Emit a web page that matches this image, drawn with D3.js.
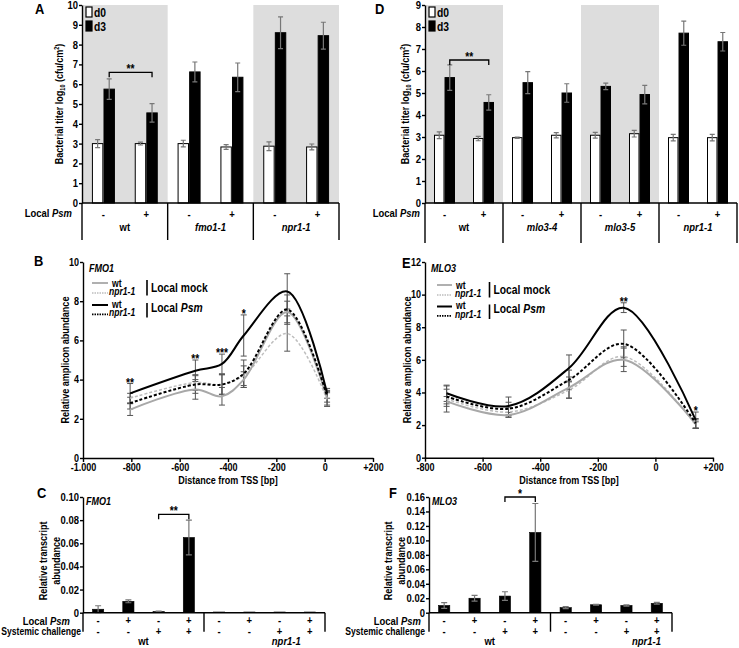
<!DOCTYPE html>
<html><head><meta charset="utf-8">
<script src="https://cdn.jsdelivr.net/npm/d3@7"></script>
<style>body{margin:0;background:#fff;}</style>
</head><body>
<svg id="fig" width="739" height="648" xmlns="http://www.w3.org/2000/svg"></svg>
<script>
// ================= DATA =================
const localPsm = ["-", "+"];
const days = ["d0", "d3"];
// Panel A (order: wt-, wt+, fmo1-1 -, fmo1-1 +, npr1-1 -, npr1-1 +)
const groupsA = ["wt", "fmo1-1", "npr1-1"];
const d0A = [3.0, 3.0, 3.0, 2.83, 2.87, 2.83];
const d0AErr = [0.2, 0.07, 0.17, 0.12, 0.22, 0.15];
const d3A = [5.75, 4.55, 6.62, 6.35, 8.6, 8.45];
const d3AErr = [0.52, 0.47, 0.5, 0.72, 0.8, 0.68];
const ticksA = [0, 1, 2, 3, 4, 5, 6, 7, 8, 9, 10];
// Panel D
const groupsD = ["wt", "mlo3-4", "mlo3-5", "npr1-1"];
const d0D = [3.08, 2.93, 2.97, 3.08, 3.08, 3.15, 2.97, 2.97];
const d0DErr = [0.15, 0.1, 0.03, 0.12, 0.13, 0.15, 0.15, 0.15];
const d3D = [5.7, 4.57, 5.47, 5.0, 5.3, 4.93, 7.72, 7.33];
const d3DErr = [0.58, 0.35, 0.5, 0.42, 0.15, 0.42, 0.55, 0.42];
const ticksD = [0, 1, 2, 3, 4, 5, 6, 7, 8, 9];
// Panel B (FMO1 promoter)
const bpB = [-805, -535, -425, -335, -155, 10];
const wtMockB = [2.47, 3.5, 3.15, 4.0, 7.45, 3.05];
const wtMockBErr = [0.3, 0.5, 0.45, 0.4, 0.55, 0.35];
const nprMockB = [3.05, 3.85, 3.75, 4.2, 6.35, 2.98];
const nprMockBErr = [0.25, 0.4, 0.5, 0.5, 0.9, 0.35];
const wtPsmB = [3.3, 4.45, 4.8, 6.25, 8.5, 3.3];
const wtPsmBErr = [0.5, 0.55, 0.5, 1.05, 0.9, 0.25];
const nprPsmB = [2.8, 3.75, 3.75, 4.3, 7.57, 3.15];
const nprPsmBErr = [0.3, 0.45, 0.5, 0.7, 0.75, 0.3];
const sigB = ["**", "**", "***", "*", "", ""];
const xTicksB = [-1000, -800, -600, -400, -200, 0, 200];
const yTicksB = [0, 2, 4, 6, 8, 10];
// Panel E (MLO3 promoter)
const bpE = [-725, -510, -300, -110, 140];
const wtMockE = [3.45, 2.62, 4.3, 6.0, 2.07];
const wtMockEErr = [0.3, 0.15, 0.65, 0.72, 0.25];
const nprMockE = [3.6, 2.8, 4.15, 6.2, 2.0];
const nprMockEErr = [0.8, 0.3, 0.5, 0.6, 0.2];
const wtPsmE = [3.95, 3.17, 5.5, 9.2, 2.3];
const wtPsmEErr = [0.5, 0.55, 0.8, 0.3, 0.5];
const nprPsmE = [3.75, 3.0, 4.77, 6.98, 2.1];
const nprPsmEErr = [0.45, 0.4, 0.6, 0.85, 0.3];
const sigE = ["", "", "", "**", "*"];
const xTicksE = [-800, -600, -400, -200, 0, 200];
const yTicksE = [0, 2, 4, 6, 8, 10, 12];
// Panels C / F (transcripts)
const cLocal = ["-", "+", "-", "+", "-", "+", "-", "+"];
const cSystemic = ["-", "-", "+", "+", "-", "-", "+", "+"];
const fmo1C = [0.003, 0.0098, 0.001, 0.065, 0.0006, 0.0006, 0.0006, 0.0006];
const fmo1CErr = [0.003, 0.0012, 0.0004, 0.015, 0, 0, 0, 0];
const yTicksC = [0, 0.02, 0.04, 0.06, 0.08, 0.10];
const mlo3F = [0.010, 0.020, 0.023, 0.111, 0.007, 0.011, 0.010, 0.013];
const mlo3FErr = [0.004, 0.004, 0.006, 0.040, 0.0015, 0.0006, 0.001, 0.0012];
const yTicksF = [0, 0.02, 0.04, 0.06, 0.08, 0.10, 0.12, 0.14, 0.16];

// ================= FONT =================
const narrowOK = (() => {
  const c = document.createElement("canvas").getContext("2d");
  c.font = "bold 40px monospace"; const a = c.measureText("Local mock abcdefghij").width;
  c.font = "bold 40px 'Liberation Sans Narrow', monospace"; const b = c.measureText("Local mock abcdefghij").width;
  return Math.abs(a - b) > 1;
})();
const FAMILY = narrowOK ? "'Liberation Sans Narrow', sans-serif" : "'Liberation Sans', Arial, sans-serif";
const SX = narrowOK ? 1.05 : 0.86;

const svg = d3.select("#fig");

function T(parent, x, y, parts, o = {}) {
  const t = parent.append("text")
    .attr("transform", `translate(${x},${y})${o.rot ? ` rotate(${o.rot})` : ""} scale(${SX},1)`)
    .attr("text-anchor", o.anchor || "start")
    .attr("font-size", o.size || 10.5).attr("font-weight", "bold")
    .style("font-family", FAMILY).attr("fill", "#000");
  const list = typeof parts === "string" ? [[parts, o.italic]] : parts;
  list.forEach(p => {
    const s = t.append("tspan").text(p[0]);
    if (p[1]) s.attr("font-style", "italic");
    if (p[2]) { if (p[2].size) s.attr("font-size", p[2].size); if (p[2].dy) s.attr("dy", p[2].dy); }
  });
  return t;
}
function styleAxis(g, size) {
  g.selectAll("path,line").attr("stroke", "#000").attr("stroke-width", 1.4);
  g.selectAll("text").attr("font-size", size || 10.5).attr("font-weight", "bold").attr("fill", "#000")
    .style("font-family", FAMILY)
    .each(function () {
      const t = d3.select(this);
      const x = +t.attr("x") || 0, y = +t.attr("y") || 0;
      t.attr("transform", `translate(${x},${y}) scale(${SX},1)`).attr("x", 0).attr("y", 0);
    });
}
function line(g, x1, y1, x2, y2, stroke, w, dash) {
  const l = g.append("line").attr("x1", x1).attr("y1", y1).attr("x2", x2).attr("y2", y2)
    .attr("stroke", stroke || "#000").attr("stroke-width", w || 1.4);
  if (dash) l.attr("stroke-dasharray", dash);
  return l;
}
function errBar(g, x, yLo, yHi, cap, color, w) {
  const p = `M${x},${yLo}V${yHi}M${x - cap},${yLo}H${x + cap}M${x - cap},${yHi}H${x + cap}`;
  g.append("path").attr("d", p).attr("stroke", color).attr("stroke-width", w).attr("fill", "none");
}

// ================= A / D : bacterial titers =================
function titerPanel(o) {
  const g = svg.append("g");
  const y = d3.scaleLinear([0, o.ymax], [o.yb, o.yt]);
  const x0 = d3.scaleBand(o.groups, [o.xl, o.xr]);
  const xs = d3.scaleBand(localPsm, [0, x0.bandwidth()]);
  const xd = d3.scaleBand(days, [-o.barW, o.barW]).paddingInner(0.1);
  g.selectAll("rect.shade").data(o.shaded).join("rect")
    .attr("x", d => x0(o.groups[d])).attr("width", x0.bandwidth())
    .attr("y", y(o.ymax)).attr("height", y(0) - y(o.ymax)).attr("fill", "#dddddd");
  const rows = [];
  o.groups.forEach((gr, gi) => localPsm.forEach((l, li) => {
    const i = gi * 2 + li, cx = x0(gr) + xs(l) + xs.bandwidth() / 2;
    rows.push({ day: "d0", cx, v: o.d0[i], e: o.d0e[i] });
    rows.push({ day: "d3", cx, v: o.d3[i], e: o.d3e[i] });
  }));
  g.selectAll("rect.bar").data(rows).join("rect")
    .attr("x", d => d.cx + xd(d.day)).attr("width", xd.bandwidth())
    .attr("y", d => y(d.v)).attr("height", d => y(0) - y(d.v))
    .attr("fill", d => d.day === "d0" ? "#fff" : "#000").attr("stroke", "#000").attr("stroke-width", 1);
  rows.forEach(d => errBar(g, d.cx + xd(d.day) + xd.bandwidth() / 2, y(d.v - d.e), y(d.v + d.e), 2.5, "#777", 1.2));
  const ax = g.append("g").attr("transform", `translate(${o.xl},0)`)
    .call(d3.axisLeft(y).tickValues(o.ticks).tickSize(3).tickPadding(1).tickSizeOuter(0));
  styleAxis(ax, 11);
  line(g, o.xl, y(0), o.xr, y(0));
  const seps = o.groups.map(gr => x0(gr)).concat([o.xr]);
  seps.forEach(sx => line(g, sx, y(0), sx, y(0) + o.tableH));
  T(g, o.localX, y(0) + 14, [["Local "], ["Psm", true]], { anchor: "end", size: 11 });
  o.groups.forEach(gr => {
    localPsm.forEach(l => T(g, x0(gr) + xs(l) + xs.bandwidth() / 2, y(0) + 14.5, l, { anchor: "middle", size: 11 }));
    T(g, x0(gr) + x0.bandwidth() / 2, y(0) + 28, gr, { anchor: "middle", size: 11, italic: gr !== "wt" });
  });
  g.append("rect").attr("x", o.xl + 4).attr("y", 7).attr("width", 6).attr("height", 10).attr("fill", "#fff").attr("stroke", "#000").attr("stroke-width", 1.2);
  g.append("rect").attr("x", o.xl + 4).attr("y", 21).attr("width", 6).attr("height", 10).attr("fill", "#000").attr("stroke", "#000").attr("stroke-width", 1.2);
  T(g, o.xl + 12, 16.5, "d0", { size: 12 });
  T(g, o.xl + 12, 30.5, "d3", { size: 12 });
  const bx1 = x0("wt") + xs("-") + xs.bandwidth() / 2 + xd("d3") + xd.bandwidth() / 2;
  const bx2 = x0("wt") + xs("+") + xs.bandwidth() / 2 + xd("d3") + xd.bandwidth() / 2;
  const by = y(o.bracket);
  g.append("path").attr("d", `M${bx1},${by + 5}V${by}H${bx2}V${by + 5}`).attr("stroke", "#000").attr("stroke-width", 1.3).attr("fill", "none");
  T(g, (bx1 + bx2) / 2, by + 1, "**", { anchor: "middle", size: 12 });
  T(g, o.titleX, (o.yb + o.yt) / 2, [["Bacterial titer log"], ["10", false, { size: 6.5, dy: 2 }], [" (cfu/cm", false, { dy: -2 }], ["2", false, { size: 6.5, dy: -4 }], [")", false, { dy: 4 }]], { anchor: "middle", rot: -90, size: 10.5 });
  T(g, o.letterX, 14, o.letter, { size: 15 });
}
titerPanel({ groups: groupsA, d0: d0A, d0e: d0AErr, d3: d3A, d3e: d3AErr, ticks: ticksA, ymax: 10,
  xl: 82, xr: 339, yb: 203, yt: 5, barW: 11, shaded: [0, 2], tableH: 37, localX: 72, bracket: 6.6,
  titleX: 63, letter: "A", letterX: 35 });
titerPanel({ groups: groupsD, d0: d0D, d0e: d0DErr, d3: d3D, d3e: d3DErr, ticks: ticksD, ymax: 9,
  xl: 425, xr: 737, yb: 203, yt: 5, barW: 10, shaded: [0, 2], tableH: 40, localX: 420, bracket: 6.5,
  titleX: 409, letter: "D", letterX: 375 });

// ================= B / E : ChIP profiles =================
function profilePanel(o) {
  const g = svg.append("g");
  const x = d3.scaleLinear(o.xdom, [o.xl, o.xr]);
  const y = d3.scaleLinear([0, o.ymax], [o.yb, o.yt]);
  const series = [
    { v: o.nprMock, e: o.nprMockE, stroke: "#bdbdbd", w: 1.5, dash: "3,2" },
    { v: o.wtMock, e: o.wtMockE, stroke: "#a8a8a8", w: 2, dash: null },
    { v: o.nprPsm, e: o.nprPsmE, stroke: "#000", w: 2, dash: "3,2" },
    { v: o.wtPsm, e: o.wtPsmE, stroke: "#000", w: 2, dash: null }
  ];
  series.forEach(s => s.v.forEach((v, i) => errBar(g, x(o.bp[i]), y(v - s.e[i]), y(v + s.e[i]), 3, "#555", 1)));
  const gen = d3.line().x((d, i) => x(o.bp[i])).y(d => y(d)).curve(d3.curveCatmullRom.alpha(0.5));
  series.forEach(s => {
    const p = g.append("path").attr("d", gen(s.v)).attr("fill", "none").attr("stroke", s.stroke).attr("stroke-width", s.w);
    if (s.dash) p.attr("stroke-dasharray", s.dash);
  });
  o.sig.forEach((s, i) => {
    if (!s) return;
    const top = d3.max(series, se => se.v[i] + se.e[i]);
    T(g, x(o.bp[i]), y(top) + 3, s, { anchor: "middle", size: 12 });
  });
  const ay = g.append("g").attr("transform", `translate(${o.xl},0)`)
    .call(d3.axisLeft(y).tickValues(o.yTicks).tickSize(3).tickPadding(1).tickSizeOuter(0));
  styleAxis(ay, 10.5);
  const axx = g.append("g").attr("transform", `translate(0,${o.yb})`)
    .call(d3.axisBottom(x).tickValues(o.xTicks).tickSize(4).tickPadding(2).tickSizeOuter(0)
      .tickFormat(d => d === -1000 ? "-1.000" : d > 0 ? "+" + d : String(d)));
  styleAxis(axx, 10.5);
  T(g, (o.xl + o.xr) / 2, o.yb + 26, "Distance from TSS [bp]", { anchor: "middle", size: 10.5 });
  T(g, o.titleX, (o.yb + o.yt) / 2, "Relative amplicon abundance", { anchor: "middle", rot: -90, size: 10.5 });
  T(g, o.xl + 6, o.yt + 10, o.gene, { italic: true, size: 10.5 });
  // legend
  const L = o.leg;
  line(g, L.lx1, L.r1, L.lx2, L.r1, "#a8a8a8", 1.8);
  line(g, L.lx1, L.r1 + 10, L.lx2, L.r1 + 10, "#bdbdbd", 1.4, "1.5,1");
  line(g, L.lx1, L.r2, L.lx2, L.r2, "#000", 2);
  line(g, L.lx1, L.r2 + 9.3, L.lx2, L.r2 + 9.3, "#000", 1.8, "1.5,1");
  T(g, L.wtX, L.r1 + 4.3, "wt", { size: 10 });
  T(g, L.nX, L.r1 + 11.5, "npr1-1", { italic: true, size: 10 });
  T(g, L.wtX, L.r2 + 2.8, "wt", { size: 10 });
  T(g, L.nX, L.r2 + 11, "npr1-1", { italic: true, size: 10 });
  line(g, L.bx, L.r1 - 3, L.bx, L.r1 + 12.5, "#000", 1.6);
  line(g, L.bx, L.r2 - 2, L.bx, L.r2 + 12.5, "#000", 1.6);
  T(g, L.bx + 4, L.r1 + 8.5, "Local mock", { size: 12 });
  T(g, L.bx + 4, L.r2 + 6.5, [["Local "], ["Psm", true]], { size: 12 });
  T(g, o.letterX, o.letterY, o.letter, { size: 15 });
}
profilePanel({ bp: bpB, wtMock: wtMockB, wtMockE: wtMockBErr, nprMock: nprMockB, nprMockE: nprMockBErr,
  wtPsm: wtPsmB, wtPsmE: wtPsmBErr, nprPsm: nprPsmB, nprPsmE: nprPsmBErr, sig: sigB,
  xdom: [-1000, 200], xl: 83, xr: 373, ymax: 10, yb: 458, yt: 262, xTicks: xTicksB, yTicks: yTicksB,
  titleX: 69, gene: "FMO1", letter: "B", letterX: 34, letterY: 266,
  leg: { lx1: 92, lx2: 108, r1: 283, r2: 305, wtX: 112, nX: 109, bx: 147 } });
profilePanel({ bp: bpE, wtMock: wtMockE, wtMockE: wtMockEErr, nprMock: nprMockE, nprMockE: nprMockEErr,
  wtPsm: wtPsmE, wtPsmE: wtPsmEErr, nprPsm: nprPsmE, nprPsmE: nprPsmEErr, sig: sigE,
  xdom: [-800, 200], xl: 425, xr: 713, ymax: 12, yb: 457.7, yt: 262, xTicks: xTicksE, yTicks: yTicksE,
  titleX: 411, gene: "MLO3", letter: "E", letterX: 402, letterY: 268,
  leg: { lx1: 437, lx2: 452, r1: 285, r2: 306.5, wtX: 456, nX: 455, bx: 489.5 } });

// ================= C / F : transcripts =================
function transcriptPanel(o) {
  const g = svg.append("g");
  const x = d3.scaleBand(d3.range(cLocal.length), [o.xl, o.xr]).paddingInner(0.63).paddingOuter(0.315);
  const y = d3.scaleLinear([0, o.ymax], [o.yb, o.yt]);
  g.selectAll("rect.bar").data(o.vals).join("rect")
    .attr("x", (d, i) => x(i)).attr("width", x.bandwidth())
    .attr("y", d => y(d)).attr("height", d => y(0) - y(d)).attr("fill", "#000")
    .attr("stroke", "#000").attr("stroke-width", 0.6);
  o.vals.forEach((v, i) => { if (o.errs[i] > 0) errBar(g, x(i) + x.bandwidth() / 2, y(v - o.errs[i]), y(v + o.errs[i]), 3, "#777", 1.2); });
  const ay = g.append("g").attr("transform", `translate(${o.xl},0)`)
    .call(d3.axisLeft(y).tickValues(o.ticks).tickSize(3).tickPadding(1).tickSizeOuter(0)
      .tickFormat(d => d === 0 ? "0" : d3.format(".2f")(d)));
  styleAxis(ay, 11);
  line(g, o.xl, y(0), o.xr, y(0));
  const sep = (x(3) + x.bandwidth() + x(4)) / 2;
  [o.xl, sep, o.xr].forEach(sx => line(g, sx, y(0), sx, y(0) + 19));
  const cx = i => x(i) + x.bandwidth() / 2;
  cLocal.forEach((s, i) => T(g, cx(i), y(0) + 11.5, s, { anchor: "middle", size: 11 }));
  cSystemic.forEach((s, i) => T(g, cx(i), y(0) + 22, s, { anchor: "middle", size: 11 }));
  T(g, o.localX, y(0) + 12, [["Local "], ["Psm", true]], { anchor: "end", size: 11 });
  T(g, o.sysX, y(0) + 22.5, "Systemic challenge", { anchor: "end", size: 10 });
  T(g, (cx(0) + cx(3)) / 2, y(0) + 32, "wt", { anchor: "middle", size: 11 });
  T(g, sep + o.nprFrac * (o.xr - sep), y(0) + 32, "npr1-1", { anchor: "middle", size: 11, italic: true });
  const by = y(o.bracket);
  g.append("path").attr("d", `M${cx(2)},${by + 5}V${by}H${cx(3)}V${by + 5}`).attr("stroke", "#000").attr("stroke-width", 1.3).attr("fill", "none");
  T(g, (cx(2) + cx(3)) / 2, by + 1, o.sig, { anchor: "middle", size: 12 });
  T(g, o.xl + 3, o.yt + 8, o.gene, { italic: true, size: 10.5 });
  T(g, o.titleX1, (o.yb + o.yt) / 2 + 6, "Relative transcript", { anchor: "middle", rot: -90, size: 10.5 });
  T(g, o.titleX2, (o.yb + o.yt) / 2 + 6, "abundance", { anchor: "middle", rot: -90, size: 10.5 });
  T(g, o.letterX, 498, o.letter, { size: 15 });
}
transcriptPanel({ vals: fmo1C, errs: fmo1CErr, ticks: yTicksC, ymax: 0.10, xl: 83, xr: 325, yb: 612.7, yt: 497,
  localX: 70, sysX: 81, nprFrac: 0.68, bracket: 0.085, sig: "**", gene: "FMO1", titleX1: 46.5, titleX2: 59.5,
  letter: "C", letterX: 37 });
transcriptPanel({ vals: mlo3F, errs: mlo3FErr, ticks: yTicksF, ymax: 0.16, xl: 429, xr: 672, yb: 612.7, yt: 497,
  localX: 421, sysX: 425, nprFrac: 0.79, bracket: 0.16, sig: "*", gene: "MLO3", titleX1: 392, titleX2: 405,
  letter: "F", letterX: 389 });
</script>
</body></html>
